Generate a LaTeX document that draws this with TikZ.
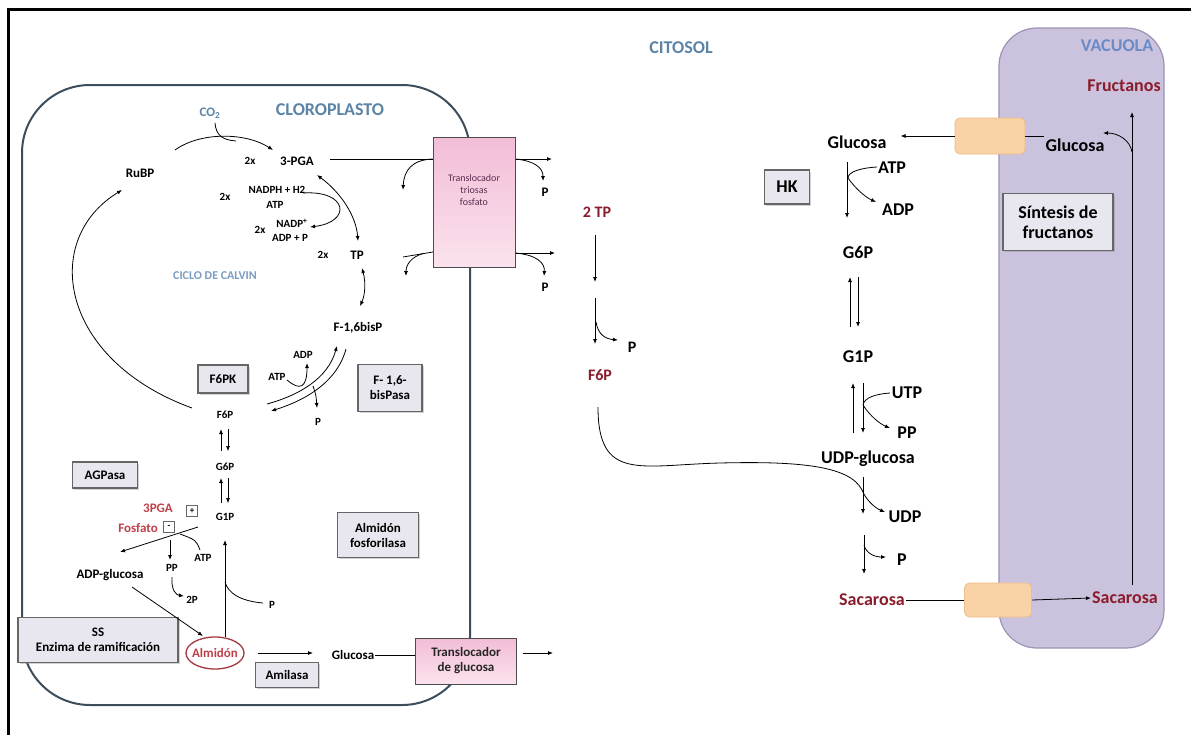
\documentclass[tikz,border=0pt]{standalone}
\usepackage{fontspec}
\setmainfont{Carlito}
\usetikzlibrary{arrows.meta,shapes.geometric,shadows,calc}
\definecolor{dred}{HTML}{8B1C2B}
\definecolor{lred}{HTML}{C0404A}
\definecolor{cblue}{HTML}{5B84A6}
\definecolor{calblue}{HTML}{7A9CC0}
\definecolor{vblue}{HTML}{6A8BC6}
\definecolor{chl}{HTML}{3D4D5C}
\definecolor{vacfill}{HTML}{CBC3DE}
\definecolor{vacdraw}{HTML}{9C93B6}
\definecolor{orfill}{HTML}{F9D2A6}
\definecolor{ordraw}{HTML}{EDBE8C}
\definecolor{enzfill}{HTML}{E8E6EF}
\definecolor{enzdraw}{HTML}{666666}
\definecolor{pinktop}{HTML}{F2BDD7}
\definecolor{pinkbot}{HTML}{FBE2EE}
\definecolor{tritext}{HTML}{5A2E4E}
\begin{document}
\begin{tikzpicture}[x=1pt,y=-1pt,
  fL/.style={font=\bfseries\fontsize{18}{20}\selectfont,inner sep=1pt},
  fM/.style={font=\bfseries\fontsize{16}{18}\selectfont,inner sep=1pt},
  fS/.style={font=\bfseries\fontsize{13}{15}\selectfont,inner sep=1pt},
  fX/.style={font=\bfseries\fontsize{11}{12}\selectfont,inner sep=1pt},
  arr/.style={-{Latex[length=5pt,width=4pt]},line width=0.8pt},
  darr/.style={{Latex[length=5pt,width=4pt]}-{Latex[length=5pt,width=4pt]},line width=0.8pt},
  ln/.style={line width=0.8pt},
  enzbox/.style={draw=enzdraw,line width=1.4pt,fill=enzfill,align=center,inner sep=0pt,
    drop shadow={shadow xshift=1.5pt,shadow yshift=-1.5pt,opacity=0.35}},
  pinkbox/.style={draw=black!70,line width=1pt,top color=pinktop,bottom color=pinkbot,align=center,inner sep=0pt},
  orbox/.style={draw=ordraw,line width=0.8pt,fill=orfill,rounded corners=5pt,minimum width=70pt,minimum height=36pt},
  pmbox/.style={draw=black!60,line width=0.8pt,minimum size=11pt,inner sep=0pt,font=\bfseries\fontsize{9}{9}\selectfont},
]
\useasboundingbox (0,0) rectangle (1191,734);
\fill[white] (0,0) rectangle (1191,734);
% frame
\draw[line width=3pt] (8,740) -- (8,9.5) -- (1196,9.5);

% compartments
\draw[chl,line width=2pt,rounded corners=68pt] (22,85) rectangle (470,705);
\draw[vacdraw,fill=vacfill,line width=1.2pt,rounded corners=38pt] (999,28) rectangle (1164,648);

% translocators
\node[pinkbox,minimum width=82pt,minimum height=130pt] (tri) at (474,202) {};
\node[font=\fontsize{10}{12}\selectfont,text=tritext,align=center] (trilbl) at (474,190) {Translocador\\triosas\\fosfato};
\node[pinkbox,minimum width=101pt,minimum height=46pt,font=\bfseries\fontsize{13}{15}\selectfont,text=black!85] (glt) at (466,661) {Translocador\\de glucosa};
\node[orbox] (otop) at (990,136) {};
\node[orbox,minimum width=67pt,minimum height=34pt] (obot) at (998,600) {};

% titles
\node[fL,text=cblue] (citosol) at (681,48) {CITOSOL};
\node[fL,text=vblue] (vacuola) at (1117,46) {VACUOLA};
\node[fL,text=cblue] (clor) at (330,110) {CLOROPLASTO};
\node[font=\bfseries\fontsize{13}{15}\selectfont,text=cblue] (co2) at (210,113) {CO\textsubscript{2}};

% enzyme boxes
\node[enzbox,fS,inner sep=0pt,minimum width=50pt,minimum height=28pt] (f6pk) at (223,379) {F6PK};
\node[enzbox,fS,inner sep=0pt,minimum width=64pt,minimum height=47pt] (fbp) at (390,388) {F- 1,6-\\bisPasa};
\node[enzbox,fS,inner sep=0pt,minimum width=65pt,minimum height=26pt] (agp) at (105,475) {AGPasa};
\node[enzbox,fS,inner sep=0pt,minimum width=81pt,minimum height=45pt] (af) at (378,535) {Almidón\\fosforilasa};
\node[enzbox,fS,inner sep=0pt,minimum width=160pt,minimum height=45pt] (ss) at (98,640) {SS\\Enzima de ramificación};
\node[enzbox,fS,inner sep=0pt,minimum width=63pt,minimum height=25pt] (amil) at (287,675) {Amilasa};
\node[enzbox,fL,inner sep=0pt,minimum width=45pt,minimum height=34pt] (hk) at (787,187) {HK};
\node[enzbox,fL,inner sep=0pt,minimum width=110pt,minimum height=57pt] (sint) at (1058,222) {Síntesis de\\fructanos};

% chloroplast labels
\node[fS] (rubp) at (140,173) {RuBP};
\node[fX] (x1) at (250,161) {2x};
\node[fS] (pga) at (297,161) {3-PGA};
\node[fX] (x2) at (225,197) {2x};
\node[fX] (nadph) at (277,190) {NADPH + H2};
\node[fX] (atp1) at (275,205) {ATP};
\node[fX] (x3) at (260,230) {2x};
\node[fX] (nadp) at (292,223) {NADP\textsuperscript{+}};
\node[fX] (adpp) at (290,238) {ADP + P};
\node[fX] (x4) at (323,255) {2x};
\node[fS] (tp) at (357,255) {TP};
\node[font=\bfseries\fontsize{12}{14}\selectfont,text=calblue] (calvin) at (215,276) {CICLO DE CALVIN};
\node[fS] (fbisp) at (358,328) {F-1,6bisP};
\node[fX] (atp2) at (277,377) {ATP};
\node[fX] (adp2) at (303,355) {ADP};
\node[fX] (p2) at (318,422) {P};
\node[fX] (f6pc) at (225,415) {F6P};
\node[fX] (g6pc) at (225,467) {G6P};
\node[fX] (g1pc) at (225,517) {G1P};
\node[fS,text=lred] (pgared) at (158,508) {3PGA};
\node[pmbox] (plus) at (192,511) {+};
\node[fS,text=lred] (fosf) at (138,528) {Fosfato};
\node[pmbox] (minus) at (169,527) {-};
\node[fX] (atp3) at (203,558) {ATP};
\node[fX] (pp1) at (172,568) {PP};
\node[fX] (p2p) at (192,600) {2P};
\node[fS] (adpg) at (110,575) {ADP-glucosa};
\node[fX] (p3) at (272,605) {P};
\node[fS,text=lred] (alm) at (215,653) {Almidón};
\draw[lred!85!black,line width=1.3pt] (alm.center) ellipse [x radius=29, y radius=16];
\node[fS] (glc1) at (353,655) {Glucosa};
\node[fS] (ptop) at (545,192) {P};
\node[fS] (pbot) at (545,287) {P};

% middle
\node[fM,text=dred] (tp2) at (597,212) {2 TP};
\node[fM,text=dred] (f6pm) at (600,375) {F6P};
\node[fM] (pm) at (632,347) {P};

% right
\node[fL] (glcc) at (857,142) {Glucosa};
\node[fL] (atpr) at (892,168) {ATP};
\node[fL] (adpr) at (898,210) {ADP};
\node[fL] (g6pr) at (858,252) {G6P};
\node[fL] (g1pr) at (858,357) {G1P};
\node[fL] (utp) at (907,393) {UTP};
\node[fL] (ppr) at (907,433) {PP};
\node[fL] (udpg) at (868,459) {UDP-glucosa};
\node[fL] (udp) at (905,517) {UDP};
\node[fL] (pr) at (902,560) {P};
\node[fL,text=dred] (sac) at (872,600) {Sacarosa};
\node[fL] (glcv) at (1075,145) {Glucosa};
\node[fL,text=dred] (fruc) at (1124,86) {Fructanos};
\node[fL,text=dred] (sacv) at (1125,598) {Sacarosa};

% ---------- connectors: Calvin cycle
\coordinate (c1) at (175,150); \coordinate (c2) at (273,150);
\draw[arr] (c1) .. controls (200,132) and (245,132) .. (c2);
\coordinate (c3) at (215,123); \coordinate (c4) at (236,141);
\draw[ln] (c3) .. controls (216,135) and (222,140) .. (c4);
\coordinate (c5) at (317,175); \coordinate (c6) at (358,241);
\draw[darr] (c5) .. controls (340,192) and (356,215) .. (c6);
\coordinate (c7) at (303,193); \coordinate (c8) at (310,227);
\draw[arr] (c7) .. controls (348,190) and (352,222) .. (c8);
\coordinate (c9) at (362,268); \coordinate (c10) at (360,306);
\draw[darr] (c9) .. controls (366,283) and (365,295) .. (c10);
\coordinate (c11) at (267,404); \coordinate (c12) at (337,346);
\draw[arr] (c11) .. controls (300,395) and (328,378) .. (c12);
\coordinate (c13) at (346,349); \coordinate (c14) at (271,411);
\draw[arr] (c13) .. controls (337,382) and (306,400) .. (c14);
\coordinate (c15) at (287,380); \coordinate (c16) at (307,363);
\draw[arr] (c15) .. controls (300,391) and (307,388) .. (c16);
\coordinate (c17) at (313,386); \coordinate (c18) at (317,408);
\draw[arr] (c17) .. controls (316,395) .. (c18);
\coordinate (c19) at (192,408); \coordinate (c20) at (122,190);
\draw[arr] (c19) .. controls (60,360) and (40,240) .. (c20);
% F6P / G6P / G1P
\draw[arr] (221,451) -- (221,429);
\draw[arr,line width=0.6pt] (228,429) -- (228,451);
\draw[arr] (221,503) -- (221,478);
\draw[arr,line width=0.6pt] (228,478) -- (228,503);
% starch synthesis
\coordinate (s1) at (198,527); \coordinate (s2) at (120,552);
\draw[arr] (s1) -- (s2);
\coordinate (s3) at (200,550); \coordinate (s4) at (180,534);
\draw[ln] (s3) .. controls (196,540) .. (s4);
\coordinate (s5) at (170,540); \coordinate (s6) at (170,560);
\draw[arr] (s5) -- (s6);
\coordinate (s7) at (172,577); \coordinate (s8) at (184,596);
\draw[arr] (s7) .. controls (171,590) and (176,595) .. (s8);
\coordinate (s9) at (132,587); \coordinate (s10) at (203,636);
\draw[arr] (s9) -- (s10);
\coordinate (s11) at (225,637); \coordinate (s12) at (225,540);
\draw[arr] (s11) -- (s12);
\coordinate (s13) at (263,603); \coordinate (s14) at (225,582);
\draw[ln] (s13) .. controls (240,601) and (228,593) .. (s14);
\coordinate (s15) at (258,653); \coordinate (s16) at (313,653);
\draw[arr] (s15) -- (s16);
\draw[ln] (glc1.east) -- (glt.west |- glc1.east);
\coordinate (s17) at (553,653);
\draw[arr] (glt.east |- s17) ++(6,0) -- (s17);

% triose translocator
\coordinate (t1) at (330,159); \coordinate (t2) at (403,190);
\draw[ln] (t1) -- (tri.west |- t1);
\draw[arr] (tri.west |- t1) .. controls (412,160) and (404,170) .. (t2);
\coordinate (t3) at (552,159); \coordinate (t4) at (543,181);
\draw[arr] (tri.east |- t3) -- (t3);
\draw[arr] (tri.east |- t3) .. controls (535,161) and (543,168) .. (t4);
\coordinate (t5) at (403,257); \coordinate (t6) at (433,252); \coordinate (t7) at (406,276);
\draw[ln] (t5) -- (t6);
\draw[arr] (423,253.5) .. controls (411,257) and (406,265) .. (t7);
\coordinate (t8) at (555,253); \coordinate (t9) at (544,276);
\draw[arr] (tri.east |- t8) -- (t8);
\draw[arr] (tri.east |- t8) .. controls (537,255) and (545,263) .. (t9);

% middle column
\coordinate (m1) at (595,235); \coordinate (m2) at (595,282);
\draw[arr] (m1) -- (m2);
\coordinate (m3) at (595,298); \coordinate (m4) at (595,344);
\draw[arr] (m3) -- (m4);
\coordinate (m5) at (596,322); \coordinate (m6) at (618,340);
\draw[arr] (m5) .. controls (598,335) and (606,339) .. (m6);
\coordinate (m7) at (598,407); \coordinate (m8) at (885,512);
\draw[arr] (m7) .. controls (598,482) and (640,465) .. (720,463)
  .. controls (800,461) and (850,466) .. (862,490)
  .. controls (866,500) and (875,508) .. (m8);

% right column
\draw[arr] (otop.west) -- ([xshift=13pt]glcc.east |- otop.west);
\draw[ln] (otop.east) -- (glcv.west |- otop.east);
\coordinate (r1) at (847,162); \coordinate (r2) at (847,218);
\draw[arr] (r1) -- (r2);
\coordinate (r3) at (877,167); \coordinate (r4) at (876,202);
\draw[arr] (r3) .. controls (860,168) and (848,172) .. (848,178) .. controls (855,188) and (865,197) .. (r4);
\draw[arr] (850,327) -- (850,277);
\draw[arr] (858,277) -- (858,327);
\draw[arr] (853,433) -- (853,383);
\draw[arr] (863,383) -- (863,433);
\coordinate (r5) at (890,393); \coordinate (r6) at (890,428);
\draw[arr] (r5) .. controls (875,394) and (864,398) .. (863,405) .. controls (870,416) and (880,424) .. (r6);
\coordinate (r7) at (863,477); \coordinate (r8) at (863,514);
\draw[arr] (r7) -- (r8);
\coordinate (r9) at (864,535); \coordinate (r10) at (864,574);
\draw[arr] (r9) -- (r10);
\coordinate (r11) at (864,545); \coordinate (r12) at (886,557);
\draw[arr] (r11) .. controls (866,553) and (874,557) .. (r12);
\draw[ln] (sac.east) -- (obot.west);
\draw[arr] (obot.east) -- (sacv.west);
\coordinate (v1) at (1132,585); \coordinate (v2) at (1132,112);
\draw[arr] (v1) -- (v2);
\coordinate (v3) at (1132,152); \coordinate (v4) at (1103,133);
\draw[arr] (v3) .. controls (1130,140) and (1118,133) .. (v4);
\end{tikzpicture}
\end{document}
